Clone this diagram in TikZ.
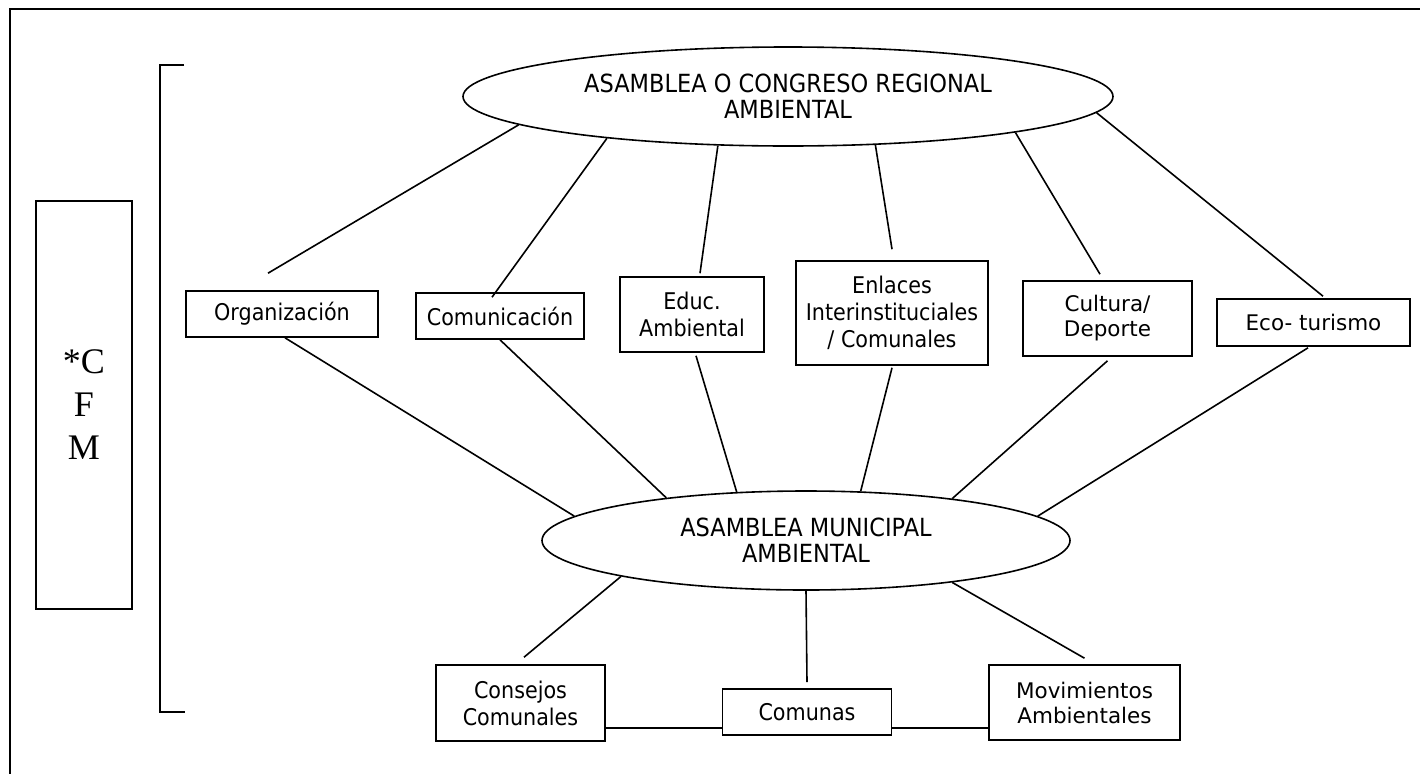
\documentclass[tikz,border=0pt]{standalone}
\usepackage{fontspec}
\usepackage{tikz}
\usetikzlibrary{shapes.geometric}
\newfontfamily\tahfont[FakeStretch=0.9]{DejaVu Sans}
\newfontfamily\verfont{DejaVu Sans}
\newfontfamily\romfont{Liberation Serif}

\begin{document}
\begin{tikzpicture}[x=1pt, y=-1pt, line width=1.6pt,
  box/.style = {shape=rectangle, draw, align=center, inner sep=0pt,
    font=\tahfont\fontsize{23}{27}\selectfont},
  vbox/.style = {box, font=\verfont\fontsize{21.5}{25}\selectfont},
  oval/.style = {shape=ellipse, draw, align=center, inner sep=0pt,
    font=\tahfont\fontsize{25}{26}\selectfont},
 ]
 \useasboundingbox (0,0) rectangle (1420,774);
 \draw[line width=2pt] (1420,9) -- (10,9) -- (10,774);
 \draw (184,65) -- (160,65) -- (160,712) -- (185,712);
 \node[box, minimum width=96, minimum height=408,
   font=\romfont\fontsize{36}{43}\selectfont] (cfm) at (84,405) {*C\\F\\M};

 \node[oval, minimum width=650, minimum height=99] (reg) at (788,96.5)
   {ASAMBLEA O CONGRESO REGIONAL\\AMBIENTAL};
 \node[oval, minimum width=528, minimum height=99] (mun) at (806,540.5)
   {ASAMBLEA MUNICIPAL\\AMBIENTAL};

 \node[box, minimum width=192, minimum height=46] (org) at (282,314) {Organización};
 \node[box, minimum width=168, minimum height=46] (com) at (500,316) {Comunicación};
 \node[box, minimum width=144, minimum height=75] (edu) at (692,314.5) {Educ.\\Ambiental};
 \node[box, minimum width=192, minimum height=104] (enl) at (892,313)
   {Enlaces\\Interinstituciales\\/ Comunales};
 \node[vbox, minimum width=169, minimum height=75] (cul) at (1107.5,318.5) {Cultura/\\Deporte};
 \node[vbox, minimum width=193, minimum height=47] (eco) at (1313.5,322.5) {Eco- turismo};
 \node[box, minimum width=169, minimum height=76] (con) at (520.5,703) {Consejos\\Comunales};
 \node[box, minimum width=169, minimum height=46] (cmn) at (807,712) {Comunas};
 \node[vbox, minimum width=191, minimum height=75] (mov) at (1084.5,702.5)
   {Movimientos\\Ambientales};

 \draw (reg.186.9) -- ([xshift=-14pt,yshift=17pt]org.north);
 \draw (reg.193.9) -- ([xshift=-8pt,yshift=-5pt]com.north);
 \draw (reg.215) -- ([xshift=8pt,yshift=3pt]edu.north);
 \draw (reg.331.6) -- ([yshift=11pt]enl.north);
 \draw (reg.351.9) -- ([xshift=-7.5pt,yshift=6pt]cul.north);
 \draw (reg.357.5) -- ([xshift=9.5pt,yshift=2pt]eco.north);

 \draw ([xshift=3pt]org.south) -- (mun.174);
 \draw (com.south) -- (mun.163.8);
 \draw ([xshift=4pt,yshift=-3pt]edu.south) -- (mun.145.9);
 \draw ([yshift=-2pt]enl.south) -- (mun.42.5);
 \draw ([yshift=-4pt]cul.south) -- (mun.16.5);
 \draw ([xshift=-5.5pt,yshift=-1pt]eco.south) -- (mun.6.1);

 \draw (mun.191.8) -- ([xshift=3.5pt,yshift=7pt]con.north);
 \draw (mun.south) -- ([yshift=6pt]cmn.north);
 \draw (mun.344.2) -- ([yshift=6pt]mov.north);
 \coordinate (hl) at (0,728);
 \draw (con.east |- hl) -- (cmn.west |- hl);
 \draw (cmn.east |- hl) -- (mov.west |- hl);
\end{tikzpicture}
\end{document}
